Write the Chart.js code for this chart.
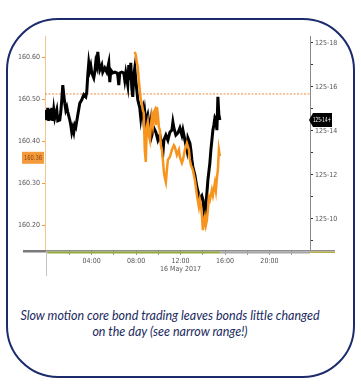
<!DOCTYPE html>
<html>
<head>
<meta charset="utf-8">
<script src="https://cdn.jsdelivr.net/npm/chart.js@4.4.1/dist/chart.umd.min.js"></script>
<style>
    html, body { margin: 0; padding: 0; background: #fff; }
    body { width: 361px; height: 386px; position: relative; overflow: hidden; }
    #frame {
        position: absolute; left: 6px; top: 18px; width: 345px; height: 356px;
        border: 2px solid #1c2b6b; border-radius: 52px;
    }
    #wrap { position: absolute; left: 0; top: 0; width: 361px; height: 290px; }
    #caption {
        position: absolute; left: 0px; top: 308px; width: 340px;
        text-align: center; font-family: Lato, 'Liberation Sans', sans-serif;
        font-style: italic; font-size: 12.5px; line-height: 16px; color: #1b2a5e;
    }
</style>
</head>
<body>
<div id="frame"></div>
<div id="wrap"><canvas id="bondChart"></canvas></div>
<div id="caption">Slow motion core bond trading leaves bonds little changed<br>on the day (see narrow range!)</div>
<script>
// hours since midnight, 16 May 2017
const blackTimes = [-0.14, -0.05, 0.05, 0.14, 0.23, 0.32, 0.41, 0.50, 0.59, 0.68, 0.86, 0.95, 1.13, 1.22, 1.31, 1.40, 1.49, 1.58, 1.67, 1.76,
    1.85, 2.03, 2.12, 2.21, 2.30, 2.39, 2.48, 2.57, 2.75, 2.93, 3.11, 3.29, 3.47, 3.56, 3.65, 3.74, 3.83, 3.92, 4.01, 4.19,
    4.28, 4.37, 4.46, 4.55, 4.64, 4.73, 4.91, 5.00, 5.18, 5.36, 5.54, 5.63, 5.72, 5.90, 6.08, 6.26, 6.35, 6.44, 6.53, 6.71,
    6.89, 6.98, 7.07, 7.25, 7.34, 7.43, 7.52, 7.61, 7.70, 7.79, 7.88, 7.97, 8.06, 8.15, 8.33, 8.42, 8.51, 8.60, 8.69, 8.78,
    8.87, 9.05, 9.24, 9.33, 9.42, 9.60, 9.78, 9.96, 10.14, 10.32, 10.41, 10.50, 10.68, 10.86, 11.04, 11.22, 11.31, 11.40, 11.58, 11.76,
    11.94, 12.12, 12.21, 12.39, 12.57, 12.66, 12.84, 12.93, 13.02, 13.11, 13.29, 13.47, 13.65, 13.74, 13.92, 14.01, 14.10, 14.19, 14.28, 14.37,
    14.46, 14.64, 14.73, 14.82, 14.91, 15.00, 15.09, 15.18, 15.27, 15.36, 15.45, 15.54];
const blackPrices = [160.474, 160.450, 160.479, 160.448, 160.476, 160.450, 160.479, 160.448, 160.474, 160.455, 160.474, 160.448, 160.450, 160.469, 160.498, 160.533, 160.510, 160.490, 160.474, 160.481,
    160.469, 160.450, 160.438, 160.421, 160.431, 160.421, 160.438, 160.433, 160.462, 160.490, 160.498, 160.510, 160.505, 160.517, 160.557, 160.586, 160.569, 160.579, 160.562, 160.550,
    160.564, 160.588, 160.579, 160.612, 160.588, 160.569, 160.581, 160.564, 160.574, 160.564, 160.586, 160.540, 160.569, 160.562, 160.564, 160.562, 160.557, 160.533, 160.562, 160.564,
    160.562, 160.545, 160.562, 160.533, 160.581, 160.545, 160.586, 160.526, 160.505, 160.557, 160.574, 160.545, 160.521, 160.498, 160.479, 160.455, 160.474, 160.481, 160.450, 160.469,
    160.445, 160.462, 160.426, 160.445, 160.414, 160.431, 160.421, 160.402, 160.414, 160.390, 160.371, 160.402, 160.414, 160.402, 160.421, 160.426, 160.445, 160.431, 160.414, 160.419,
    160.431, 160.414, 160.426, 160.402, 160.379, 160.407, 160.395, 160.379, 160.355, 160.338, 160.319, 160.290, 160.271, 160.260, 160.269, 160.260, 160.236, 160.219, 160.248, 160.276,
    160.307, 160.348, 160.379, 160.402, 160.426, 160.438, 160.455, 160.450, 160.426, 160.505, 160.462, 160.450];

const orangeTimes = [7.88, 7.97, 8.06, 8.15, 8.24, 8.33, 8.42, 8.51, 8.60, 8.69, 8.78, 8.87, 8.96, 9.05, 9.14, 9.24, 9.33, 9.42, 9.51, 9.60,
    9.69, 9.78, 9.87, 9.96, 10.05, 10.14, 10.23, 10.32, 10.41, 10.50, 10.59, 10.68, 10.77, 10.86, 11.04, 11.22, 11.40, 11.49, 11.67, 11.85,
    11.94, 12.12, 12.21, 12.39, 12.57, 12.75, 12.84, 12.93, 13.11, 13.29, 13.38, 13.47, 13.65, 13.74, 13.83, 13.92, 14.01, 14.10, 14.19, 14.28,
    14.37, 14.46, 14.55, 14.64, 14.82, 14.91, 15.09, 15.18, 15.27, 15.36, 15.45, 15.54];
const orangePrices = [160.612, 160.605, 160.588, 160.576, 160.545, 160.521, 160.498, 160.490, 160.474, 160.467, 160.379, 160.350, 160.433, 160.445, 160.414, 160.402, 160.438, 160.457, 160.438, 160.469,
    160.474, 160.438, 160.481, 160.462, 160.433, 160.426, 160.390, 160.379, 160.355, 160.326, 160.312, 160.302, 160.331, 160.355, 160.362, 160.379, 160.390, 160.386, 160.367, 160.379,
    160.362, 160.348, 160.355, 160.379, 160.395, 160.379, 160.355, 160.343, 160.331, 160.307, 160.290, 160.271, 160.243, 160.260, 160.248, 160.224, 160.188, 160.207, 160.219, 160.200,
    160.212, 160.236, 160.267, 160.260, 160.283, 160.271, 160.300, 160.283, 160.312, 160.331, 160.379, 160.364];

const refLevel = 160.512;
const leftTicks = [160.20, 160.30, 160.40, 160.50, 160.60];
const rightTicks = [9, 10, 11, 12, 13, 14, 15, 16, 17, 18]; // 32nds above 125
const timeTicks = [2, 4, 6, 8, 10, 12, 14, 16, 18, 20, 22];
const dateLabel = '16 May 2017';
const orangeLastLabel = '160.36';
const orangeLastValue = 160.36;
const blackLastLabel = '125-14+';
const blackLastValue = 14.5;

const tickFont = { family: "'Liberation Sans Narrow', 'DejaVu Sans Condensed', 'Liberation Sans', sans-serif", size: 7 };

function pad2(n) {
    return (n < 10 ? '0' : '') + n;
}

const decorPlugin = {
    id: 'decor',
    beforeDatasetsDraw(chart) {
        const ctx = chart.ctx;
        const area = chart.chartArea;
        const x = chart.scales.x;
        ctx.save();
        // left axis stub below the plot
        ctx.strokeStyle = '#c4c4c4';
        ctx.lineWidth = 1;
        ctx.beginPath();
        ctx.moveTo(area.left + 1.5, area.bottom);
        ctx.lineTo(area.left + 1.5, area.bottom + 26);
        ctx.stroke();
        // bottom band
        ctx.fillStyle = '#7a7a7a';
        ctx.fillRect(area.left - 22, area.bottom, 23, 2.5);
        ctx.fillStyle = '#8e8e8e';
        ctx.fillRect(area.left, area.bottom, area.right - area.left + 25, 1.5);
        ctx.fillStyle = '#93a83a';
        ctx.fillRect(x.getPixelForValue(0), area.bottom + 1.5, x.getPixelForValue(15.6) - x.getPixelForValue(0), 2);
        ctx.fillStyle = '#a7a6a6';
        ctx.fillRect(x.getPixelForValue(15.6), area.bottom + 1.5, area.right - x.getPixelForValue(15.6), 2);
        ctx.fillStyle = '#b8ae4a';
        ctx.fillRect(area.right, area.bottom + 1.5, 25, 1.5);
        ctx.restore();
    },
    afterDraw(chart) {
        const ctx = chart.ctx;
        const area = chart.chartArea;
        const yl = chart.scales.y;
        const yr = chart.scales.y2;
        ctx.save();
        ctx.font = "7px 'Liberation Sans Narrow', 'DejaVu Sans Condensed', 'Liberation Sans', sans-serif";
        ctx.textBaseline = 'middle';
        ctx.textAlign = 'center';
        // orange last value on the left
        let py = yl.getPixelForValue(orangeLastValue);
        ctx.fillStyle = '#f39a3c';
        ctx.fillRect(area.left - 23, py - 6, 22, 12);
        ctx.fillStyle = '#8a4610';
        ctx.fillText(orangeLastLabel, area.left - 12, py + 0.5, 18);
        // black last value on the right
        py = yr.getPixelForValue(blackLastValue);
        ctx.fillStyle = '#000';
        ctx.beginPath();
        ctx.moveTo(area.right - 1, py);
        ctx.lineTo(area.right + 3, py - 7);
        ctx.lineTo(area.right + 22, py - 7);
        ctx.lineTo(area.right + 22, py + 7);
        ctx.lineTo(area.right + 3, py + 7);
        ctx.closePath();
        ctx.fill();
        ctx.fillStyle = '#fff';
        ctx.fillText(blackLastLabel, area.right + 12, py + 0.5, 18);
        ctx.restore();
    }
};

const ctx = document.getElementById('bondChart').getContext('2d');
new Chart(ctx, {
    type: 'line',
    data: {
        datasets: [{
            label: 'Bund',
            data: orangeTimes.map((t, i) => ({ x: t, y: orangePrices[i] })),
            borderColor: '#f7941d',
            borderWidth: 2.5,
            pointRadius: 0,
            order: 1
        }, {
            label: 'Core bond future',
            data: blackTimes.map((t, i) => ({ x: t, y: blackPrices[i] })),
            borderColor: '#000000',
            borderWidth: 3,
            pointRadius: 0,
            order: 2
        }, {
            label: 'Reference',
            data: [{ x: -0.2, y: refLevel }, { x: 23.65, y: refLevel }],
            borderColor: '#f08a3c',
            borderWidth: 1,
            borderDash: [2, 1.5],
            pointRadius: 0,
            order: 3
        }]
    },
    options: {
        responsive: true,
        maintainAspectRatio: false,
        animation: false,
        layout: { padding: { top: 36, left: 0, right: 21, bottom: 10 } },
        plugins: { legend: { display: false }, tooltip: { enabled: false } },
        scales: {
            x: {
                type: 'linear',
                min: -0.2,
                max: 23.65,
                afterFit(scale) { scale.height = 30; },
                afterBuildTicks(scale) { scale.ticks = timeTicks.map(v => ({ value: v })); },
                border: { display: false },
                grid: { drawOnChartArea: false, drawTicks: true, tickLength: 5, tickColor: '#9a9a9a' },
                ticks: {
                    autoSkip: false,
                    maxRotation: 0,
                    padding: 2,
                    color: '#555',
                    font: tickFont,
                    callback(v) {
                        if (v % 4 !== 0) return '';
                        const s = pad2(v) + ':00';
                        return v === 12 ? [s, dateLabel] : s;
                    }
                }
            },
            y: {
                position: 'left',
                min: 160.1405,
                max: 160.65,
                afterFit(scale) { scale.width = 45; },
                afterBuildTicks(scale) { scale.ticks = leftTicks.map(v => ({ value: v })); },
                border: { color: '#f6c48a' },
                grid: { drawOnChartArea: false, drawTicks: true, tickLength: 3, tickColor: '#f39a3c' },
                ticks: { padding: 2, color: '#555', font: tickFont, callback: v => v.toFixed(2) }
            },
            y2: {
                position: 'right',
                min: 8.59,
                max: 18.318,
                afterFit(scale) { scale.width = 30; },
                afterBuildTicks(scale) { scale.ticks = rightTicks.map(v => ({ value: v })); },
                border: { color: '#8a8a8a' },
                grid: { drawOnChartArea: false, drawTicks: true, tickLength: 3, tickColor: '#333' },
                ticks: { padding: 2, color: '#555', font: tickFont, callback: v => (v % 2 === 0 ? '125-' + v : '') }
            }
        }
    },
    plugins: [decorPlugin]
});
</script>
</body>
</html>
